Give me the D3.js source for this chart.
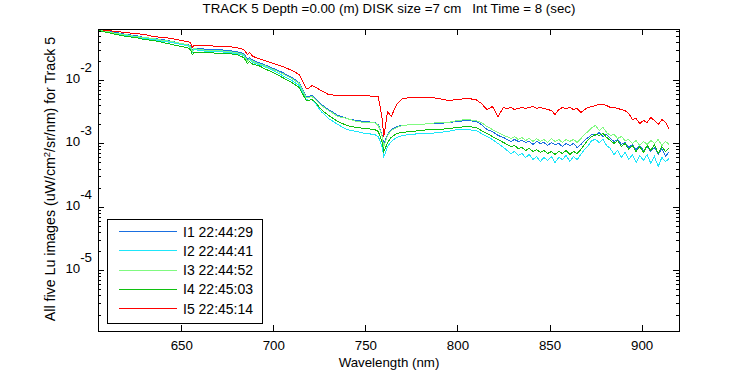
<!DOCTYPE html>
<html>
<head>
<meta charset="utf-8">
<script src="https://cdn.jsdelivr.net/npm/d3@7"></script>
<style>
  body { margin: 0; background: #fff; }
  svg text { font-family: "Liberation Sans", Arial, sans-serif; font-size: 13.3px; fill: #000; white-space: pre; }
</style>
</head>
<body>
<svg id="chart" width="750" height="375"></svg>
<script>
// wavelengths (nm) shared by all five images
const wavelength = [605,610,615,620,625,630,635,640,645,650,653,655,656,657,660,665,670,675,680,684,
  686,687,689,692,695,700,705,710,714,717,718,719,721,723,726,730,735,740,745,750,
  755,757,759,760,761,762,764,767,770,775,780,785,790,795,800,805,810,813,816,819,
  822,825,827,829,831,833,835,837,839,841,843,845,847,849,851,853,855,857,859,861,
  863,865,867,869,871,873,875,877,879,881,883,885,887,889,891,893,895,897,899,901,
  903,905,907,909,911,913,915];

// Lu, uW/cm^2/sr/nm
const lu1 = [6.23e-2,5.79e-2,5.58e-2,5.19e-2,5.01e-2,4.66e-2,4.49e-2,4.33e-2,4.03e-2,3.75e-2,
  3.61e-2,3.48e-2,2.91e-2,3.13e-2,3.13e-2,3.01e-2,3.01e-2,2.91e-2,2.80e-2,2.61e-2,
  2.10e-2,2.25e-2,2.02e-2,1.88e-2,1.75e-2,1.51e-2,1.31e-2,1.09e-2,9.09e-3,6.10e-3,
  5.47e-3,5.47e-3,5.67e-3,5.09e-3,4.09e-3,3.41e-3,2.75e-3,2.46e-3,2.29e-3,2.21e-3,
  2.13e-3,1.98e-3,1.38e-3,9.58e-4,1.15e-3,1.38e-3,1.65e-3,1.84e-3,1.91e-3,1.98e-3,
  1.98e-3,2.05e-3,2.05e-3,2.13e-3,2.21e-3,2.29e-3,2.21e-3,1.98e-3,1.65e-3,1.54e-3,
  1.33e-3,1.24e-3,
  1.15e-3,1.07e-3,1.15e-3,1.07e-3,1.11e-3,1.03e-3,1.07e-3,9.58e-4,1.07e-3,9.94e-4,
  1.03e-3,9.24e-4,1.03e-3,9.58e-4,9.94e-4,8.91e-4,9.94e-4,9.24e-4,9.94e-4,8.59e-4,
  9.58e-4,1.11e-3,1.24e-3,1.38e-3,1.33e-3,1.48e-3,1.28e-3,1.38e-3,1.19e-3,1.07e-3,
  1.15e-3,9.58e-4,1.03e-3,8.59e-4,9.58e-4,7.99e-4,9.24e-4,7.71e-4,8.91e-4,7.43e-4,
  8.59e-4,6.66e-4,8.29e-4,6.20e-4,7.43e-4];

const lu2 = [6.00e-2,5.79e-2,5.38e-2,5.01e-2,4.83e-2,4.49e-2,4.33e-2,4.03e-2,3.89e-2,3.61e-2,
  3.48e-2,3.24e-2,2.70e-2,3.01e-2,2.91e-2,2.80e-2,2.80e-2,2.70e-2,2.61e-2,2.42e-2,
  1.95e-2,2.10e-2,1.88e-2,1.75e-2,1.63e-2,1.41e-2,1.17e-2,9.78e-3,8.16e-3,5.47e-3,
  4.91e-3,4.73e-3,4.91e-3,4.24e-3,3.17e-3,2.46e-3,1.98e-3,1.65e-3,1.54e-3,1.43e-3,
  1.38e-3,1.28e-3,8.91e-4,6.20e-4,7.17e-4,8.91e-4,1.07e-3,1.24e-3,1.33e-3,1.38e-3,
  1.43e-3,1.43e-3,1.48e-3,1.54e-3,1.65e-3,1.65e-3,1.59e-3,1.43e-3,1.28e-3,1.15e-3,
  9.94e-4,8.59e-4,
  7.71e-4,6.91e-4,7.43e-4,6.43e-4,6.91e-4,5.98e-4,6.66e-4,5.56e-4,6.20e-4,5.17e-4,
  5.98e-4,5.36e-4,6.20e-4,4.98e-4,5.98e-4,5.56e-4,6.43e-4,5.17e-4,6.20e-4,5.56e-4,
  6.66e-4,7.99e-4,9.24e-4,1.11e-3,1.15e-3,1.03e-3,1.15e-3,9.24e-4,8.29e-4,6.66e-4,
  7.71e-4,5.98e-4,7.17e-4,5.56e-4,6.66e-4,4.98e-4,6.43e-4,5.36e-4,6.66e-4,4.81e-4,
  6.20e-4,4.31e-4,5.98e-4,5.17e-4,5.76e-4];

const lu3 = [6.00e-2,5.79e-2,5.38e-2,5.19e-2,4.83e-2,4.66e-2,4.49e-2,4.18e-2,4.03e-2,3.75e-2,
  3.61e-2,3.36e-2,2.80e-2,3.13e-2,3.01e-2,2.91e-2,2.91e-2,2.80e-2,2.70e-2,2.51e-2,
  1.95e-2,2.17e-2,1.95e-2,1.81e-2,1.69e-2,1.46e-2,1.26e-2,1.05e-2,8.77e-3,5.88e-3,
  5.28e-3,5.28e-3,5.47e-3,4.91e-3,3.95e-3,3.29e-3,2.65e-3,2.46e-3,2.21e-3,2.13e-3,
  2.13e-3,1.91e-3,1.33e-3,8.91e-4,1.07e-3,1.33e-3,1.59e-3,1.78e-3,1.91e-3,1.98e-3,
  1.98e-3,2.05e-3,2.13e-3,2.13e-3,2.29e-3,2.37e-3,2.29e-3,2.13e-3,1.84e-3,1.65e-3,
  1.48e-3,1.33e-3,
  1.28e-3,1.19e-3,1.28e-3,1.15e-3,1.24e-3,1.11e-3,1.19e-3,1.07e-3,1.19e-3,1.07e-3,
  1.15e-3,1.03e-3,1.19e-3,1.07e-3,1.15e-3,1.03e-3,1.15e-3,1.07e-3,1.15e-3,1.03e-3,
  1.19e-3,1.38e-3,1.54e-3,1.78e-3,1.91e-3,1.59e-3,1.78e-3,1.48e-3,1.33e-3,1.38e-3,
  1.19e-3,1.28e-3,1.11e-3,1.15e-3,9.94e-4,1.11e-3,9.24e-4,1.07e-3,9.58e-4,1.11e-3,
  9.94e-4,1.15e-3,9.24e-4,1.07e-3,9.58e-4];

const lu4 = [6.00e-2,5.58e-2,5.19e-2,4.83e-2,4.66e-2,4.33e-2,4.18e-2,3.89e-2,3.61e-2,3.36e-2,
  3.24e-2,3.01e-2,2.51e-2,2.70e-2,2.70e-2,2.70e-2,2.61e-2,2.61e-2,2.51e-2,2.25e-2,
  1.81e-2,1.95e-2,1.75e-2,1.69e-2,1.51e-2,1.31e-2,1.09e-2,9.09e-3,7.59e-3,5.28e-3,
  4.73e-3,4.73e-3,4.91e-3,4.40e-3,3.41e-3,2.75e-3,2.21e-3,1.91e-3,1.78e-3,1.71e-3,
  1.65e-3,1.54e-3,1.07e-3,7.43e-4,8.59e-4,1.03e-3,1.24e-3,1.43e-3,1.48e-3,1.54e-3,
  1.59e-3,1.65e-3,1.65e-3,1.71e-3,1.78e-3,1.84e-3,1.78e-3,1.59e-3,1.43e-3,1.28e-3,
  1.15e-3,1.03e-3,
  9.58e-4,8.91e-4,9.24e-4,8.29e-4,8.59e-4,7.71e-4,8.29e-4,7.43e-4,7.99e-4,7.17e-4,
  7.71e-4,6.91e-4,7.43e-4,6.66e-4,7.43e-4,6.91e-4,7.71e-4,6.66e-4,7.43e-4,6.91e-4,
  7.99e-4,9.58e-4,1.15e-3,1.28e-3,1.38e-3,1.33e-3,1.43e-3,1.24e-3,1.11e-3,9.94e-4,
  1.11e-3,8.91e-4,9.94e-4,7.99e-4,9.24e-4,7.43e-4,8.91e-4,7.17e-4,9.24e-4,7.71e-4,
  9.58e-4,6.91e-4,8.91e-4,7.43e-4,8.59e-4];

const lu5 = [6.23e-2,6.00e-2,5.79e-2,5.58e-2,5.38e-2,5.19e-2,4.83e-2,4.66e-2,4.49e-2,4.18e-2,
  4.03e-2,3.89e-2,3.24e-2,3.48e-2,3.48e-2,3.48e-2,3.36e-2,3.36e-2,3.24e-2,3.01e-2,
  2.51e-2,2.70e-2,2.34e-2,2.17e-2,2.02e-2,1.81e-2,1.63e-2,1.41e-2,1.22e-2,8.16e-3,
  7.31e-3,7.31e-3,8.16e-3,7.59e-3,6.80e-3,5.88e-3,5.67e-3,5.67e-3,5.67e-3,5.67e-3,
  5.47e-3,5.47e-3,2.55e-3,1.28e-3,1.98e-3,3.17e-3,2.65e-3,4.09e-3,5.09e-3,5.28e-3,
  5.28e-3,5.28e-3,5.09e-3,4.73e-3,4.91e-3,5.09e-3,4.91e-3,4.24e-3,3.41e-3,3.81e-3,
  2.65e-3,3.67e-3,
  3.54e-3,3.67e-3,3.41e-3,3.54e-3,3.67e-3,3.54e-3,3.67e-3,3.81e-3,3.54e-3,3.67e-3,
  3.54e-3,3.41e-3,3.29e-3,2.85e-3,3.41e-3,3.67e-3,3.54e-3,3.67e-3,3.41e-3,3.54e-3,
  3.06e-3,3.41e-3,3.67e-3,3.81e-3,3.95e-3,4.09e-3,4.09e-3,3.95e-3,3.67e-3,3.67e-3,
  3.54e-3,3.41e-3,3.29e-3,2.95e-3,2.37e-3,2.46e-3,2.05e-3,2.29e-3,2.13e-3,2.55e-3,
  2.29e-3,1.98e-3,2.37e-3,2.13e-3,1.65e-3];

const seriesLabels = ["I1 22:44:29", "I2 22:44:41", "I3 22:44:52", "I4 22:45:03", "I5 22:45:14"];
const xTicks = [650, 700, 750, 800, 850, 900];
const yTicks = [1e-5, 1e-4, 1e-3, 1e-2];

const colors = ["#1a6fe0", "#1ee6fa", "#80fa80", "#10c010", "#ff0000"];
const series = [lu1, lu2, lu3, lu4, lu5].map((vals, i) => ({
  label: seriesLabels[i],
  color: colors[i],
  points: wavelength.map((wl, j) => ({wl: wl, v: vals[j]}))
}));
series.forEach(s => { if (s.points.some(p => p.v === undefined)) console.warn("length mismatch", s.label); });

const svg = d3.select("#chart");
svg.append("rect").attr("width", 750).attr("height", 375).attr("fill", "#fff");

const x = d3.scaleLinear().domain([604.8, 920.3]).range([98, 679]);
const y = d3.scaleLog().domain([1.10e-6, 6.34e-2]).range([331, 29]);

// lines
svg.append("clipPath").attr("id", "clip")
  .append("rect").attr("x", 98).attr("y", 29).attr("width", 582).attr("height", 303);

const line = d3.line().x(d => x(d.wl)).y(d => y(d.v));
svg.append("g").attr("clip-path", "url(#clip)")
  .selectAll("path")
  .data(series)
  .enter()
  .append("path")
  .attr("d", d => line(d.points))
  .attr("fill", "none")
  .attr("stroke", d => d.color)
  .attr("stroke-width", 1)
  .style("shape-rendering", "crispEdges");

// minor log ticks
let minor = [];
for (let k = -6; k <= -2; k++) {
  for (let m = 2; m <= 9; m++) {
    const v = m * Math.pow(10, k);
    if (v > y.domain()[0] && v < y.domain()[1]) minor.push(v);
  }
}

const axes = svg.append("g").style("shape-rendering", "crispEdges");

axes.append("g").attr("transform", "translate(0,331)")
  .call(d3.axisBottom(x).tickValues(xTicks).tickSize(-6).tickSizeOuter(0).tickPadding(10));
axes.append("g").attr("transform", "translate(0,29)")
  .call(d3.axisTop(x).tickValues(xTicks).tickSize(-6).tickSizeOuter(0).tickFormat(""));
axes.append("g").attr("transform", "translate(98,0)")
  .call(d3.axisLeft(y).tickValues(yTicks).tickSize(-6).tickSizeOuter(0).tickFormat(""));
axes.append("g").attr("transform", "translate(679,0)")
  .call(d3.axisRight(y).tickValues(yTicks).tickSize(-6).tickSizeOuter(0).tickFormat(""));
axes.append("g").attr("transform", "translate(98,0)")
  .call(d3.axisLeft(y).tickValues(minor).tickSize(-3).tickSizeOuter(0).tickFormat(""));
axes.append("g").attr("transform", "translate(679,0)")
  .call(d3.axisRight(y).tickValues(minor).tickSize(-3).tickSizeOuter(0).tickFormat(""));

axes.selectAll(".domain").remove();
axes.selectAll(".tick line").attr("stroke", "#000");
axes.selectAll(".tick text").attr("fill", "#000").style("font-size", "13.3px")
  .style("font-family", "\"Liberation Sans\", Arial, sans-serif");

axes.append("rect")
  .attr("x", 98.5).attr("y", 29.5).attr("width", 581).attr("height", 302)
  .attr("fill", "none").attr("stroke", "#000");

// y tick labels, 10 with exponent
const ylab = svg.append("g").selectAll("text")
  .data(yTicks)
  .enter()
  .append("text")
  .attr("x", 92)
  .attr("y", d => y(d) + 3)
  .attr("text-anchor", "end");
ylab.append("tspan").text("10");
ylab.append("tspan").attr("dy", -11).text(d => Math.round(Math.log10(d)));

// titles
svg.append("text")
  .attr("x", 389).attr("y", 13)
  .attr("text-anchor", "middle")
  .text("TRACK 5 Depth =0.00 (m) DISK size =7 cm   Int Time = 8 (sec)");

svg.append("text")
  .attr("x", 389).attr("y", 367)
  .attr("text-anchor", "middle")
  .text("Wavelength (nm)");

const ytitle = svg.append("text")
  .attr("transform", "translate(55,179) rotate(-90)")
  .attr("text-anchor", "middle")
  .style("font-size", "14.2px");
ytitle.append("tspan").text("All five Lu images (uW/cm");
ytitle.append("tspan").attr("dy", -5).style("font-size", "9.5px").text("2");
ytitle.append("tspan").attr("dy", 5).text("/sr/nm) for Track 5");

// legend
const legend = svg.append("g");
legend.append("rect")
  .attr("x", 107.5).attr("y", 219.5).attr("width", 155).attr("height", 104)
  .attr("fill", "#fff").attr("stroke", "#000")
  .style("shape-rendering", "crispEdges");

const item = legend.selectAll(".item")
  .data(series)
  .enter()
  .append("g")
  .attr("class", "item")
  .attr("transform", (d, i) => "translate(0," + (231.5 + i * 19.3) + ")");

item.append("line")
  .attr("x1", 119).attr("x2", 177)
  .attr("stroke", d => d.color)
  .style("shape-rendering", "crispEdges");

item.append("text")
  .attr("x", 183).attr("y", 5)
  .style("font-size", "14px")
  .text(d => d.label);
</script>
</body>
</html>
